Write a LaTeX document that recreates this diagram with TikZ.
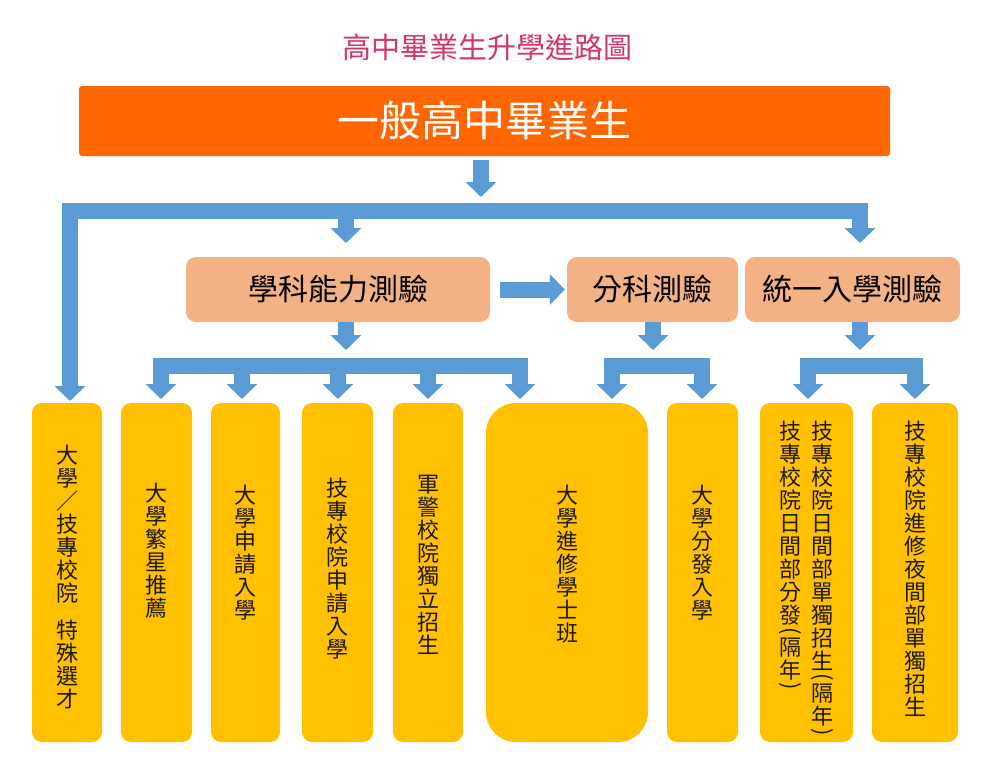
\documentclass[tikz,border=0pt]{standalone}
\usepackage{fontspec}
\setmainfont{Noto Sans CJK TC}
\usepackage{graphicx}
\usetikzlibrary{arrows.meta}
\definecolor{titlec}{RGB}{212,52,110}
\definecolor{orangec}{RGB}{255,102,0}
\definecolor{peach}{RGB}{244,177,131}
\definecolor{gold}{RGB}{255,192,0}
\definecolor{arrowblue}{RGB}{91,155,213}
\definecolor{txt}{RGB}{30,25,10}
\newcommand{\vlp}{\rotatebox[origin=c]{-90}{(}}
\newcommand{\vrp}{\rotatebox[origin=c]{-90}{)}}
\begin{document}
\begin{tikzpicture}[x=1pt,y=-1pt,
  barrow/.style={draw=arrowblue, line width=16pt, line join=miter, -{Triangle[width=30pt,length=15pt]}},
  ybox/.style={fill=gold, rounded corners=10pt, minimum height=339pt, inner sep=0pt},
  pbox/.style={fill=peach, rounded corners=10pt, minimum height=65pt, font=\fontsize{30}{36}\selectfont, text=black},
  vtxt/.style={align=center, anchor=north, inner sep=0pt, text=txt, font=\fontsize{22}{23}\selectfont},
]
\useasboundingbox[fill=white] (0,0) rectangle (996,771);

\node[text=titlec, font=\fontsize{29}{34}\selectfont] (title) at (487,47) {高中畢業生升學進路圖};
\node[fill=orangec, minimum width=811pt, minimum height=70pt, rounded corners=3pt, text=white, font=\fontsize{42}{50}\selectfont] (o) at (484.5,121) {一般高中畢業生};

\node[pbox, minimum width=304pt] (p1) at (338,289.5) {學科能力測驗};
\node[pbox, minimum width=171pt] (p2) at (652.5,289.5) {分科測驗};
\node[pbox, minimum width=215pt] (p3) at (852.5,289.5) {統一入學測驗};

\node[ybox, minimum width=70pt] (b1) at (67,572.5) {};
\node[ybox, minimum width=71pt] (b2) at (156.5,572.5) {};
\node[ybox, minimum width=69pt] (b3) at (245.5,572.5) {};
\node[ybox, minimum width=71pt] (b4) at (337.5,572.5) {};
\node[ybox, minimum width=70pt] (b5) at (428,572.5) {};
\node[ybox, minimum width=162pt, rounded corners=30pt] (b6) at (567,572.5) {};
\node[ybox, minimum width=71pt] (b7) at (702.5,572.5) {};
\node[ybox, minimum width=93pt] (b8) at (806.5,572.5) {};
\node[ybox, minimum width=86pt] (b9) at (915,572.5) {};

\node[vtxt] (t1) at (67,445) {大\\學\\／\\技\\專\\校\\院\\[14pt]特\\殊\\選\\才};
\node[vtxt] (t2) at (156.5,483) {大\\學\\繁\\星\\推\\薦};
\node[vtxt] (t3) at (245.5,485) {大\\學\\申\\請\\入\\學};
\node[vtxt] (t4) at (337.5,478) {技\\專\\校\\院\\申\\請\\入\\學};
\node[vtxt] (t5) at (428,475) {軍\\警\\校\\院\\獨\\立\\招\\生};
\node[vtxt] (t6) at (567,485) {大\\學\\進\\修\\學\\士\\班};
\node[vtxt] (t7) at (702.5,485) {大\\學\\分\\發\\入\\學};
\node[vtxt] (t8a) at (822,421) {技\\專\\校\\院\\日\\間\\部\\單\\獨\\招\\生\\[-9pt]\vlp\\[-5pt]隔\\年\\[-9pt]\vrp};
\node[vtxt] (t8b) at (790,421) {技\\專\\校\\院\\日\\間\\部\\分\\發\\[-9pt]\vlp\\[-5pt]隔\\年\\[-9pt]\vrp};
\node[vtxt] (t9) at (915,421) {技\\專\\校\\院\\進\\修\\夜\\間\\部\\單\\獨\\招\\生};

% coordinates
\coordinate (tipO) at (481,197);
\coordinate (busL) at (70,211);
\coordinate (busR) at (860,211);
\coordinate (tip1) at (70,401);
\coordinate (tipU) at (860,243);
\coordinate (tipP) at (346,243);
\coordinate (a1e) at (346,350);
\coordinate (a2e) at (653,350);
\coordinate (a3e) at (860,350);
\coordinate (bus1L) at (161,366);
\coordinate (bus1R) at (520,366);
\coordinate (tip2) at (161,399);
\coordinate (tip3) at (242,399);
\coordinate (tip4) at (338,399);
\coordinate (tip5) at (428,399);
\coordinate (tip6) at (520,399);
\coordinate (bus2L) at (612,366);
\coordinate (bus2R) at (702,366);
\coordinate (tip6b) at (612,399);
\coordinate (tip7) at (702,399);
\coordinate (bus3L) at (808,366);
\coordinate (bus3R) at (915,366);
\coordinate (tip8) at (808,399);
\coordinate (tip9) at (915,399);

\path (o.south -| tipO) ++(0,4) coordinate (topS);
\draw[barrow] (topS) -- (tipO);
\draw[barrow] (busR) -| (tip1);
\draw[barrow] (busL) -| (tipU);
\draw[barrow] (busL -| tipP) -- (tipP);

\draw[barrow] ([xshift=10pt]p1.east) -- ([xshift=-2pt]p2.west);

\draw[barrow] (p1.south -| a1e) -- (a1e);
\draw[barrow] (bus1R) -| (tip2);
\draw[barrow] (bus1L) -| (tip6);
\draw[barrow] (bus1L -| tip3) -- (tip3);
\draw[barrow] (bus1L -| tip4) -- (tip4);
\draw[barrow] (bus1L -| tip5) -- (tip5);

\draw[barrow] (p2.south -| a2e) -- (a2e);
\draw[barrow] (bus2R) -| (tip6b);
\draw[barrow] (bus2L) -| (tip7);

\draw[barrow] (p3.south -| a3e) -- (a3e);
\draw[barrow] (bus3R) -| (tip8);
\draw[barrow] (bus3L) -| (tip9);
\end{tikzpicture}
\end{document}
